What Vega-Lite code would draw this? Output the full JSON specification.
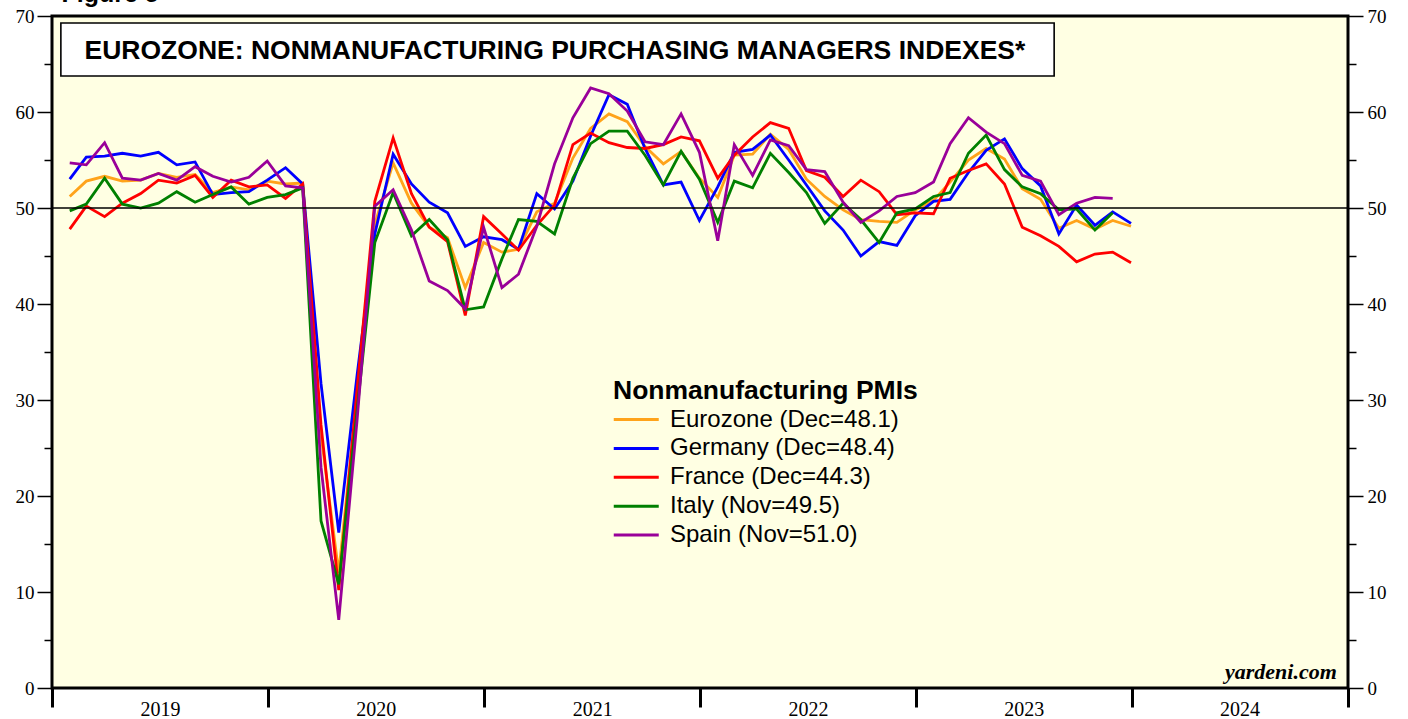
{
  "$schema": "https://vega.github.io/schema/vega-lite/v6.json",
  "width": 1296,
  "height": 672,
  "autosize": {"type": "none"},
  "padding": {"left": 52, "top": 16, "right": 60, "bottom": 31},
  "background": "white",
  "config": {
    "view": {"fill": "#FFFFE3", "stroke": "black", "strokeWidth": 3},
    "font": "Liberation Sans"
  },
  "datasets": {
    "pmi": [
      {"date": "2019-01-31", "ez": 51.2, "de": 53.0, "fr": 47.8, "it": 49.7, "es": 54.7},
      {"date": "2019-02-28", "ez": 52.8, "de": 55.3, "fr": 50.2, "it": 50.4, "es": 54.5},
      {"date": "2019-03-31", "ez": 53.3, "de": 55.4, "fr": 49.1, "it": 53.1, "es": 56.8},
      {"date": "2019-04-30", "ez": 52.8, "de": 55.7, "fr": 50.5, "it": 50.4, "es": 53.1},
      {"date": "2019-05-31", "ez": 52.9, "de": 55.4, "fr": 51.5, "it": 50.0, "es": 52.9},
      {"date": "2019-06-30", "ez": 53.6, "de": 55.8, "fr": 52.9, "it": 50.5, "es": 53.6},
      {"date": "2019-07-31", "ez": 53.2, "de": 54.5, "fr": 52.6, "it": 51.7, "es": 52.9},
      {"date": "2019-08-31", "ez": 53.5, "de": 54.8, "fr": 53.4, "it": 50.6, "es": 54.3},
      {"date": "2019-09-30", "ez": 51.6, "de": 51.4, "fr": 51.1, "it": 51.4, "es": 53.3},
      {"date": "2019-10-31", "ez": 52.2, "de": 51.6, "fr": 52.9, "it": 52.2, "es": 52.7},
      {"date": "2019-11-30", "ez": 51.9, "de": 51.7, "fr": 52.2, "it": 50.4, "es": 53.2},
      {"date": "2019-12-31", "ez": 52.8, "de": 52.9, "fr": 52.4, "it": 51.1, "es": 54.9},
      {"date": "2020-01-31", "ez": 52.5, "de": 54.2, "fr": 51.0, "it": 51.4, "es": 52.3},
      {"date": "2020-02-29", "ez": 52.6, "de": 52.5, "fr": 52.5, "it": 52.1, "es": 52.1},
      {"date": "2020-03-31", "ez": 26.4, "de": 31.7, "fr": 27.4, "it": 17.4, "es": 23.0},
      {"date": "2020-04-30", "ez": 12.0, "de": 16.2, "fr": 10.2, "it": 10.8, "es": 7.1},
      {"date": "2020-05-31", "ez": 30.5, "de": 32.6, "fr": 31.1, "it": 28.9, "es": 27.9},
      {"date": "2020-06-30", "ez": 48.3, "de": 47.3, "fr": 50.7, "it": 46.4, "es": 50.2},
      {"date": "2020-07-31", "ez": 54.7, "de": 55.6, "fr": 57.3, "it": 51.6, "es": 51.9},
      {"date": "2020-08-31", "ez": 50.5, "de": 52.5, "fr": 51.5, "it": 47.1, "es": 47.7},
      {"date": "2020-09-30", "ez": 48.0, "de": 50.6, "fr": 48.0, "it": 48.8, "es": 42.4},
      {"date": "2020-10-31", "ez": 46.9, "de": 49.5, "fr": 46.5, "it": 46.7, "es": 41.4},
      {"date": "2020-11-30", "ez": 41.7, "de": 46.0, "fr": 38.8, "it": 39.4, "es": 39.5},
      {"date": "2020-12-31", "ez": 46.4, "de": 47.0, "fr": 49.1, "it": 39.7, "es": 48.0},
      {"date": "2021-01-31", "ez": 45.4, "de": 46.7, "fr": 47.3, "it": 44.7, "es": 41.7},
      {"date": "2021-02-28", "ez": 45.7, "de": 45.7, "fr": 45.6, "it": 48.8, "es": 43.1},
      {"date": "2021-03-31", "ez": 49.6, "de": 51.5, "fr": 48.2, "it": 48.6, "es": 48.1},
      {"date": "2021-04-30", "ez": 50.5, "de": 49.9, "fr": 50.3, "it": 47.3, "es": 54.6},
      {"date": "2021-05-31", "ez": 55.2, "de": 52.8, "fr": 56.6, "it": 53.1, "es": 59.4},
      {"date": "2021-06-30", "ez": 58.3, "de": 57.5, "fr": 57.8, "it": 56.7, "es": 62.5},
      {"date": "2021-07-31", "ez": 59.8, "de": 61.8, "fr": 56.8, "it": 58.0, "es": 61.9},
      {"date": "2021-08-31", "ez": 59.0, "de": 60.8, "fr": 56.3, "it": 58.0, "es": 60.1},
      {"date": "2021-09-30", "ez": 56.4, "de": 56.2, "fr": 56.2, "it": 55.5, "es": 56.9},
      {"date": "2021-10-31", "ez": 54.6, "de": 52.4, "fr": 56.6, "it": 52.4, "es": 56.6},
      {"date": "2021-11-30", "ez": 55.9, "de": 52.7, "fr": 57.4, "it": 55.9, "es": 59.8},
      {"date": "2021-12-31", "ez": 53.1, "de": 48.7, "fr": 57.0, "it": 53.0, "es": 55.8},
      {"date": "2022-01-31", "ez": 51.1, "de": 52.2, "fr": 53.1, "it": 48.5, "es": 46.6},
      {"date": "2022-02-28", "ez": 55.5, "de": 55.8, "fr": 55.5, "it": 52.8, "es": 56.6},
      {"date": "2022-03-31", "ez": 55.6, "de": 56.1, "fr": 57.4, "it": 52.1, "es": 53.4},
      {"date": "2022-04-30", "ez": 57.7, "de": 57.6, "fr": 58.9, "it": 55.7, "es": 57.1},
      {"date": "2022-05-31", "ez": 56.1, "de": 55.0, "fr": 58.3, "it": 53.7, "es": 56.5},
      {"date": "2022-06-30", "ez": 53.0, "de": 52.4, "fr": 53.9, "it": 51.6, "es": 54.0},
      {"date": "2022-07-31", "ez": 51.2, "de": 49.7, "fr": 53.2, "it": 48.4, "es": 53.8},
      {"date": "2022-08-31", "ez": 49.8, "de": 47.7, "fr": 51.2, "it": 50.5, "es": 50.6},
      {"date": "2022-09-30", "ez": 48.8, "de": 45.0, "fr": 52.9, "it": 48.8, "es": 48.5},
      {"date": "2022-10-31", "ez": 48.6, "de": 46.5, "fr": 51.7, "it": 46.4, "es": 49.7},
      {"date": "2022-11-30", "ez": 48.5, "de": 46.1, "fr": 49.3, "it": 49.5, "es": 51.2},
      {"date": "2022-12-31", "ez": 49.8, "de": 49.2, "fr": 49.5, "it": 49.9, "es": 51.6},
      {"date": "2023-01-31", "ez": 50.8, "de": 50.7, "fr": 49.4, "it": 51.2, "es": 52.7},
      {"date": "2023-02-28", "ez": 52.7, "de": 50.9, "fr": 53.1, "it": 51.6, "es": 56.7},
      {"date": "2023-03-31", "ez": 55.0, "de": 53.7, "fr": 53.9, "it": 55.7, "es": 59.4},
      {"date": "2023-04-30", "ez": 56.2, "de": 56.0, "fr": 54.6, "it": 57.6, "es": 57.9},
      {"date": "2023-05-31", "ez": 55.1, "de": 57.2, "fr": 52.5, "it": 54.0, "es": 56.7},
      {"date": "2023-06-30", "ez": 52.0, "de": 54.1, "fr": 48.0, "it": 52.2, "es": 53.4},
      {"date": "2023-07-31", "ez": 50.9, "de": 52.3, "fr": 47.1, "it": 51.5, "es": 52.8},
      {"date": "2023-08-31", "ez": 47.9, "de": 47.3, "fr": 46.0, "it": 49.8, "es": 49.3},
      {"date": "2023-09-30", "ez": 48.7, "de": 50.3, "fr": 44.4, "it": 49.9, "es": 50.5},
      {"date": "2023-10-31", "ez": 47.8, "de": 48.2, "fr": 45.2, "it": 47.7, "es": 51.1},
      {"date": "2023-11-30", "ez": 48.7, "de": 49.6, "fr": 45.4, "it": 49.5, "es": 51.0},
      {"date": "2023-12-31", "ez": 48.1, "de": 48.4, "fr": 44.3, "it": null, "es": null}
    ],
    "one": [{"note": "annotation"}]
  },
  "resolve": {"axis": {"y": "independent"}},
  "layer": [
    {
      "data": {"name": "pmi"},
      "transform": [{"fold": ["ez", "de", "fr", "it", "es"], "as": ["series", "value"]}],
      "mark": {"type": "line", "strokeWidth": 2.8, "strokeJoin": "miter"},
      "encoding": {
        "x": {
          "field": "date",
          "type": "temporal",
          "scale": {"type": "utc", "domain": [1546300800000, 1735689600000]},
          "axis": {
            "values": [1546300800000, 1577836800000, 1609459200000, 1640995200000, 1672531200000, 1704067200000, 1735689600000],
            "labelExpr": "utcyear(datum.value) < 2025 ? utcFormat(datum.value, '%Y') : ''",
            "labelOffset": 108,
            "labelFlush": false,
            "labelOverlap": false,
            "labelBound": false,
            "labelFont": "Liberation Serif",
            "labelFontSize": 20,
            "labelColor": "black",
            "labelPadding": -8,
            "tickSize": 19,
            "tickWidth": 3,
            "tickColor": "black",
            "domain": false,
            "grid": false,
            "title": null
          }
        },
        "y": {
          "field": "value",
          "type": "quantitative",
          "scale": {"domain": [0, 70], "nice": false, "zero": false},
          "axis": {
            "orient": "left",
            "values": [0, 5, 10, 15, 20, 25, 30, 35, 40, 45, 50, 55, 60, 65, 70],
            "tickSize": {"condition": {"test": "datum.value % 10 === 0", "value": 15}, "value": 8},
            "labelExpr": "datum.value % 10 === 0 ? datum.label : ''",
            "labelFont": "Liberation Serif",
            "labelFontSize": 19,
            "labelColor": "black",
            "labelPadding": 3,
            "tickColor": "black",
            "tickWidth": 1.5,
            "domain": false,
            "grid": false,
            "title": null
          }
        },
        "color": {
          "field": "series",
          "type": "nominal",
          "scale": {"domain": ["ez", "de", "fr", "it", "es"], "range": ["#FFA31A", "#0000FF", "#FF0000", "#008000", "#990099"]},
          "legend": {
            "orient": "none",
            "legendX": 561,
            "legendY": 362,
            "padding": 0,
            "title": "Nonmanufacturing PMIs",
            "titleFont": "Liberation Sans",
            "titleFontSize": 26.5,
            "titleFontWeight": "bold",
            "titleColor": "black",
            "titlePadding": 3,
            "titleLimit": 600,
            "labelFont": "Liberation Sans",
            "labelFontSize": 24,
            "labelColor": "black",
            "labelLimit": 500,
            "labelOffset": 33,
            "symbolType": "M-1.5,0H4.5",
            "symbolSize": 225,
            "symbolStrokeWidth": 3,
            "rowPadding": 4.9,
            "labelExpr": "{'ez': 'Eurozone (Dec=48.1)', 'de': 'Germany (Dec=48.4)', 'fr': 'France (Dec=44.3)', 'it': 'Italy (Nov=49.5)', 'es': 'Spain (Nov=51.0)'}[datum.label]"
          }
        }
      }
    },
    {
      "data": {"name": "one"},
      "mark": {"type": "rule", "color": "black", "strokeWidth": 1.3},
      "encoding": {
        "y": {
          "datum": 50,
          "type": "quantitative",
          "axis": {
            "orient": "right",
            "values": [0, 5, 10, 15, 20, 25, 30, 35, 40, 45, 50, 55, 60, 65, 70],
            "tickSize": {"condition": {"test": "datum.value % 10 === 0", "value": 15}, "value": 8},
            "labelExpr": "datum.value % 10 === 0 ? datum.label : ''",
            "labelFont": "Liberation Serif",
            "labelFontSize": 19,
            "labelColor": "black",
            "labelPadding": 4,
            "tickColor": "black",
            "tickWidth": 1.5,
            "domain": false,
            "grid": false,
            "title": null
          }
        }
      }
    },
    {
      "data": {"name": "one"},
      "mark": {"type": "rect", "fill": "white", "stroke": "black", "strokeWidth": 1.6},
      "encoding": {
        "x": {"datum": {"year": 2019, "month": 1, "date": 16, "utc": true}, "type": "temporal"},
        "x2": {"datum": {"year": 2023, "month": 8, "date": 23, "utc": true}},
        "y": {"datum": 69.27, "type": "quantitative", "axis": null},
        "y2": {"datum": 63.75}
      }
    },
    {
      "data": {"name": "one"},
      "mark": {"type": "text", "align": "left", "baseline": "alphabetic", "font": "Liberation Sans", "fontSize": 26.5, "fontWeight": "bold", "color": "black"},
      "encoding": {
        "x": {"datum": {"year": 2019, "month": 2, "date": 25, "utc": true}, "type": "temporal"},
        "y": {"datum": 65.52, "type": "quantitative", "axis": null},
        "text": {"value": "EUROZONE: NONMANUFACTURING PURCHASING MANAGERS INDEXES*"}
      }
    },
    {
      "data": {"name": "one"},
      "mark": {"type": "text", "align": "right", "baseline": "alphabetic", "font": "Liberation Serif", "fontSize": 22, "fontWeight": "bold", "fontStyle": "italic", "color": "black"},
      "encoding": {
        "x": {"datum": {"year": 2024, "month": 12, "date": 13, "utc": true}, "type": "temporal"},
        "y": {"datum": 0.9, "type": "quantitative", "axis": null},
        "text": {"value": "yardeni.com"}
      }
    },
    {
      "data": {"name": "one"},
      "mark": {"type": "text", "align": "left", "baseline": "alphabetic", "font": "Liberation Sans", "fontSize": 25, "fontWeight": "bold", "color": "black"},
      "encoding": {
        "x": {"datum": {"year": 2019, "month": 1, "date": 17, "utc": true}, "type": "temporal"},
        "y": {"datum": 71.46, "type": "quantitative", "axis": null},
        "text": {"value": "Figure 5"}
      }
    }
  ]
}
